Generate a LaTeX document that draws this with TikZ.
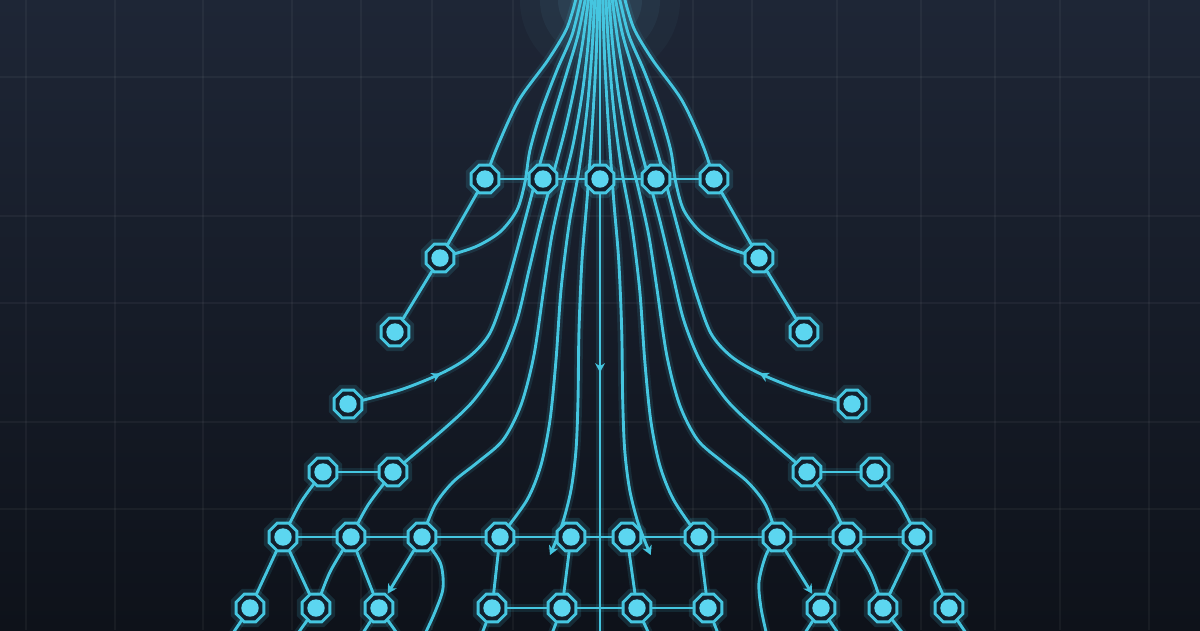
\documentclass[tikz,border=0pt]{standalone}
\usetikzlibrary{shapes.geometric,arrows.meta,decorations.markings}
\pgfdeclarelayer{bg}
\pgfdeclarelayer{lines}
\pgfsetlayers{bg,lines,main}
\definecolor{bgtop}{HTML}{1E2636}
\definecolor{bgbot}{HTML}{0E121A}
\definecolor{cy}{HTML}{45C6E0}
\definecolor{cyfill}{HTML}{5CD6F0}
\definecolor{ndark}{HTML}{13202D}
\definecolor{glow}{HTML}{7FD8F2}
\begin{document}
\begin{tikzpicture}[x=0.01cm,y=-0.01cm,
  gridl/.style={draw=white,opacity=0.045,line width=0.6pt},
  ln/.style={draw=cy,line width=0.82pt,line cap=round,preaction={draw=cy,line width=2.4pt,opacity=0.12}},
  nd/.style={regular polygon,regular polygon sides=8,minimum size=0.3cm,inner sep=0pt,
    draw=cy,line width=0.8pt,fill=ndark,
    preaction={draw=cy,line width=3pt,opacity=0.15},
    path picture={\fill[cyfill] (path picture bounding box.center) circle (0.087cm);}},
  tip/.style={-{Stealth[length=2.6pt,width=2.8pt]}},
  midarrow/.style={postaction={decorate,decoration={markings,mark=at position #1 with {\arrow{Stealth[length=2.6pt,width=2.8pt]}}}}}
]
\useasboundingbox (0,0) rectangle (1200,630);
\begin{pgfonlayer}{bg}
\shade[top color=bgtop,bottom color=bgbot] (0,0) rectangle (1200,630);
\foreach \x in {26,115,203,292,361,432,513,693,752,837,921,995,1060,1149}
  \draw[gridl] (\x,0) -- (\x,630);
\foreach \y in {77,216,303,422,509}
  \draw[gridl] (0,\y) -- (1200,\y);
\begin{scope}
\clip (0,0) rectangle (1200,630);
\foreach \r/\o in {0.8/0.035,0.6/0.05,0.42/0.07,0.28/0.1,0.16/0.16}
  \fill[glow,opacity=\o] (600,0) circle (\r cm);
\end{scope}
\end{pgfonlayer}

% nodes
\node[nd] (A1) at (485,179) {};
\node[nd] (A2) at (543,179) {};
\node[nd] (A3) at (600,179) {};
\node[nd] (A4) at (656,179) {};
\node[nd] (A5) at (714,179) {};
\node[nd] (L1) at (440,258) {};
\node[nd] (L2) at (395,332) {};
\node[nd] (L3) at (348,404) {};
\node[nd] (R1) at (759,258) {};
\node[nd] (R2) at (804,332) {};
\node[nd] (R3) at (852,404) {};
\node[nd] (B1) at (323,472) {};
\node[nd] (B2) at (393,472) {};
\node[nd] (B3) at (807,472) {};
\node[nd] (B4) at (875,472) {};
\node[nd] (C1) at (283,537) {};
\node[nd] (C2) at (351,537) {};
\node[nd] (C3) at (422,537) {};
\node[nd] (C4) at (500,537) {};
\node[nd] (C5) at (571,537) {};
\node[nd] (C6) at (627,537) {};
\node[nd] (C7) at (699,537) {};
\node[nd] (C8) at (777,537) {};
\node[nd] (C9) at (847,537) {};
\node[nd] (C10) at (917,537) {};
\node[nd] (D1) at (250,608) {};
\node[nd] (D2) at (316,608) {};
\node[nd] (D3) at (379,608) {};
\node[nd] (D4) at (492,608) {};
\node[nd] (D5) at (562,608) {};
\node[nd] (D6) at (637,608) {};
\node[nd] (D7) at (708,608) {};
\node[nd] (D8) at (821,608) {};
\node[nd] (D9) at (883,608) {};
\node[nd] (D10) at (949,608) {};

\coordinate (ctop) at (600,-5);
\coordinate (cbot) at (600,640);
\coordinate (e1) at (231,636);
\coordinate (e2) at (296,636);
\coordinate (e3) at (361,636);
\coordinate (e4) at (399,636);
\coordinate (e5) at (481,636);
\coordinate (e6) at (551,636);
\coordinate (e7) at (650,636);
\coordinate (e8) at (719,636);
\coordinate (e9) at (803,636);
\coordinate (e10) at (840,636);
\coordinate (e11) at (905,636);
\coordinate (e12) at (968,636);
\coordinate (w1) at (424,636);
\coordinate (w2) at (767,636);

\begin{pgfonlayer}{lines}
\begin{scope}
\clip (0,0) rectangle (1200,630);
% centre line
\draw[ln,midarrow=0.585] (ctop) -- (cbot);
% left fan
\draw[ln] plot[smooth] coordinates {(577,-5) (567,28) (548,60) (519,100) (498,145) (A1)};
\draw[ln] plot[smooth] coordinates {(582,-5) (572,35) (557,70) (541,112) (530,150) (525,182) (517,210) (500,232) (475,247) (L1)};
\draw[ln,midarrow=0.19] plot[smooth] coordinates {(L3) (400,390) (442,373) (470,356) (490,333) (505,292) (517,250) (529,205) (541,160) (554,115) (567,72) (578,35) (586,-5)};
\draw[ln] plot[smooth] coordinates {(589,-5) (583,40) (575,85) (565,130) (553,175) (541,220) (529,270) (517,320) (500,362) (474,400) (445,428) (B2)};
\draw[ln] plot[smooth] coordinates {(592,-5) (588,45) (582,95) (573,145) (562,190) (552,235) (544,287) (534,355) (521,405) (503,440) (478,462) (453,482) (435,505) (C3)};
\draw[ln] plot[smooth] coordinates {(595,-5) (592,50) (587,110) (579,170) (569,225) (561,290) (556,360) (550,420) (541,465) (527,500) (C4)};
\draw[ln,tip] plot[smooth] coordinates {(598,-5) (596,60) (592,130) (587,200) (582,260) (579,330) (578,400) (576,450) (571,490) (562,525) (550,555)};
% right fan (mirror)
\begin{scope}[xshift=12cm,xscale=-1]
\draw[ln] plot[smooth] coordinates {(577,-5) (567,28) (548,60) (519,100) (498,145) (A5)};
\draw[ln] plot[smooth] coordinates {(582,-5) (572,35) (557,70) (541,112) (530,150) (525,182) (517,210) (500,232) (475,247) (R1)};
\draw[ln,midarrow=0.19] plot[smooth] coordinates {(R3) (400,390) (442,373) (470,356) (490,333) (505,292) (517,250) (529,205) (541,160) (554,115) (567,72) (578,35) (586,-5)};
\draw[ln] plot[smooth] coordinates {(589,-5) (583,40) (575,85) (565,130) (553,175) (541,220) (529,270) (517,320) (500,362) (474,400) (445,428) (B3)};
\draw[ln] plot[smooth] coordinates {(592,-5) (588,45) (582,95) (573,145) (562,190) (552,235) (544,287) (534,355) (521,405) (503,440) (478,462) (453,482) (435,505) (C8)};
\draw[ln] plot[smooth] coordinates {(595,-5) (592,50) (587,110) (579,170) (569,225) (561,290) (556,360) (550,420) (541,465) (527,500) (C7)};
\draw[ln,tip] plot[smooth] coordinates {(598,-5) (596,60) (592,130) (587,200) (582,260) (579,330) (578,400) (576,450) (571,490) (562,525) (550,555)};
\end{scope}
% top row and chains
\draw[ln] (A1) -- (A2) -- (A3) -- (A4) -- (A5);
\draw[ln] (A1) -- (L1) -- (L2);
\draw[ln] (A5) -- (R1) -- (R2);
% lattice
\draw[ln] (B1) -- (B2);
\draw[ln] (B3) -- (B4);
\draw[ln] (C1) -- (C2) -- (C3) -- (C4) -- (C5) -- (C6) -- (C7) -- (C8) -- (C9) -- (C10);
\draw[ln] (D4) -- (D5) -- (D6) -- (D7);
\draw[ln] plot[smooth] coordinates {(B1) (301,502) (C1)};
\draw[ln] plot[smooth] coordinates {(B2) (368,505) (C2)};
\draw[ln] plot[smooth] coordinates {(C2) (330,572) (D2)};
\draw[ln] (C1) -- (D1);
\draw[ln] (C1) -- (D2);
\draw[ln] (C2) -- (D3);
\draw[ln,tip,shorten >=0.3pt] (C3) -- (D3);
\draw[ln] (C4) -- (D4);
\draw[ln] (C5) -- (D5);
\draw[ln] (C6) -- (D6);
\draw[ln] (C7) -- (D7);
\draw[ln,tip,shorten >=0.3pt] (C8) -- (D8);
\draw[ln] plot[smooth] coordinates {(B3) (832,505) (C9)};
\draw[ln] plot[smooth] coordinates {(B4) (899,502) (C10)};
\draw[ln] plot[smooth] coordinates {(C9) (870,572) (D9)};
\draw[ln] (C9) -- (D8);
\draw[ln] (C10) -- (D9);
\draw[ln] (C10) -- (D10);
% wiggles
\draw[ln] plot[smooth] coordinates {(C3) (440,562) (443,588) (435,612) (w1)};
\draw[ln] plot[smooth] coordinates {(C8) (766,555) (759,582) (761,608) (w2)};
% continuations off the bottom
\draw[ln] (D1) -- (e1);
\draw[ln] (D2) -- (e2);
\draw[ln] (D3) -- (e3);
\draw[ln] (D3) -- (e4);
\draw[ln] (D4) -- (e5);
\draw[ln] (D5) -- (e6);
\draw[ln] (D6) -- (e7);
\draw[ln] (D7) -- (e8);
\draw[ln] (D8) -- (e9);
\draw[ln] (D8) -- (e10);
\draw[ln] (D9) -- (e11);
\draw[ln] (D10) -- (e12);
\end{scope}
\end{pgfonlayer}
\end{tikzpicture}
\end{document}
